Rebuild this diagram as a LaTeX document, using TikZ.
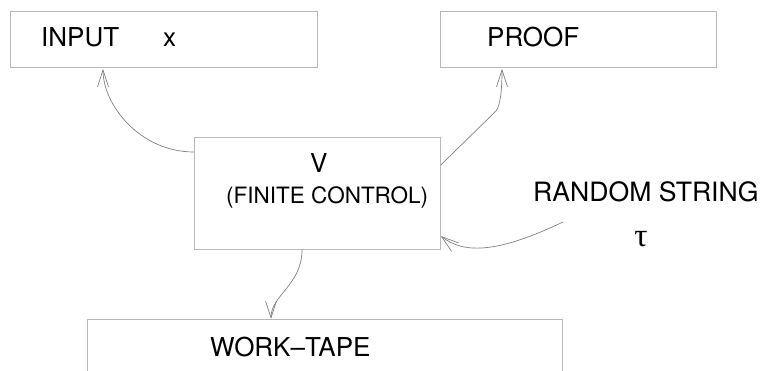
\documentclass[tikz,border=0pt]{standalone}
\usepackage{fontspec}
\setmainfont{TeX Gyre Heros}
\newfontfamily\serifgreek{Liberation Serif}
\usetikzlibrary{arrows.meta,calc}
\tikzset{
  boxshape/.style={draw=black!28, line width=0.8pt, rectangle, inner sep=0pt, anchor=north west},
  lbl/.style={inner sep=0pt, anchor=base west, font=\fontsize{26}{30}\selectfont},
  smalllbl/.style={inner sep=0pt, anchor=base west, font=\fontsize{22.5}{26}\selectfont},
  conn/.style={draw=black!50, line width=0.7pt, -{Straight Barb[length=17pt,width=11pt,line width=0.7pt]}},
}
\begin{document}
\begin{tikzpicture}[x=1pt,y=-1pt]
\useasboundingbox (0,0) rectangle (762,371);
\clip (0,0) rectangle (762,371);
% boxes
\node[boxshape, minimum width=307pt, minimum height=56pt] (inputbox) at (10,11) {};
\node[boxshape, minimum width=276pt, minimum height=56pt] (proofbox) at (440,11) {};
\node[boxshape, minimum width=246pt, minimum height=112pt] (vbox) at (194,137) {};
\node[boxshape, minimum width=475pt, minimum height=80pt] (workbox) at (87,319) {};
% labels
\node[lbl] (inputlbl) at (41,47) {INPUT};
\node[lbl] (xlbl) at (163,47) {x};
\node[lbl] (prooflbl) at (487,47) {PROOF};
\node[lbl] (vlbl) at (310,173) {V};
\node[smalllbl] (fclbl) at (226,204) {(FINITE CONTROL)};
\node[lbl, font=\fontsize{26.6}{30}\selectfont] (rslbl) at (533,202) {RANDOM STRING};
\node[inner sep=0pt, font=\serifgreek\fontsize{33}{36}\selectfont] (taulbl) at (641,239) {τ};
\node[lbl] (worklbl) at (210,356) {WORK--TAPE};
% connector end points
\coordinate (vin) at ($(vbox.north west)+(0,15)$);
\coordinate (vproof) at ($(vbox.north east)+(0,28)$);
\coordinate (vwork) at ($(vbox.south west)+(108,0)$);
\coordinate (vrand) at ($(vbox.north east)+(0,99)$);
\coordinate (inputend) at ($(inputbox.south west)+(93,1)$);
\coordinate (proofend) at ($(proofbox.south west)+(62,1)$);
\coordinate (workend) at ($(workbox.north west)+(184,0)$);
\coordinate (randstart) at (563,222);
% connectors
\draw[conn] (vin) .. controls (140,152) and (103,105) .. (inputend);
\draw[conn] (vproof) -- (496,111) .. controls (500,106) and (502,92) .. (proofend);
\draw[conn] (vwork) .. controls (302,285) and (271,295) .. (workend);
\draw[conn] (randstart) .. controls (500,252) and (465,255) .. (vrand);
\end{tikzpicture}
\end{document}
